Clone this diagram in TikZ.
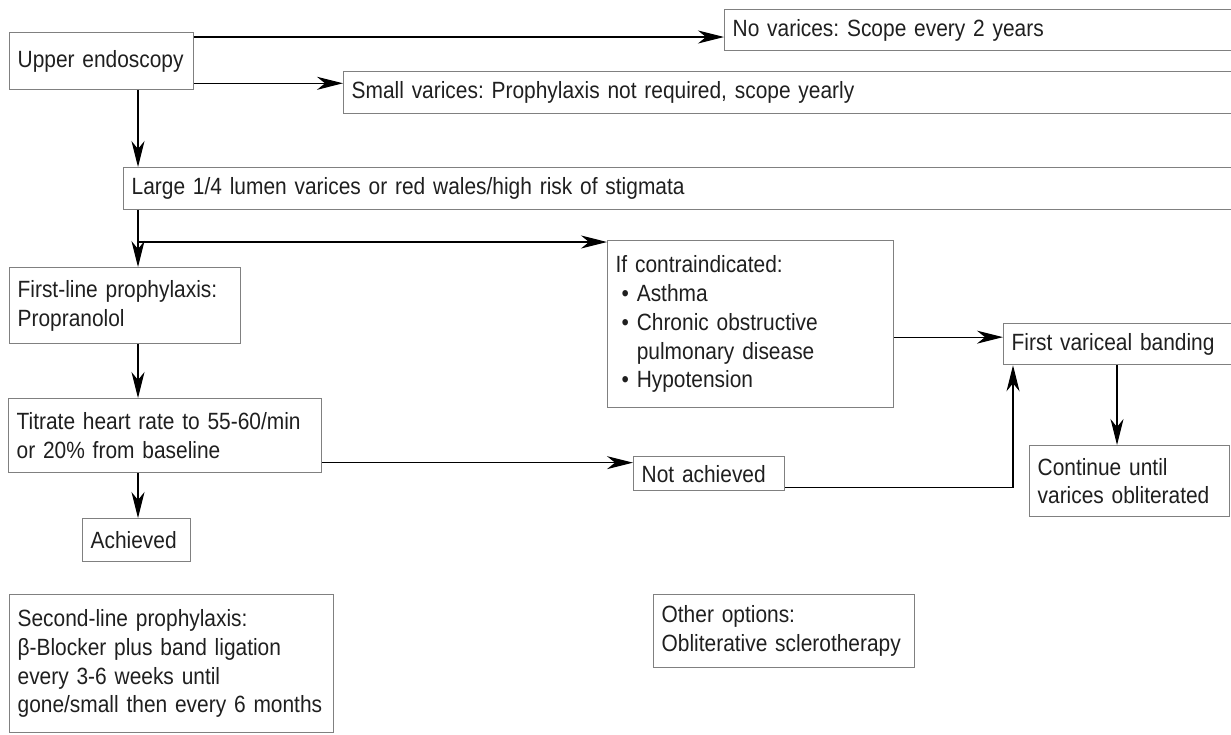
\documentclass[tikz,border=0pt]{standalone}
\usepackage{fontspec}
\setmainfont{Liberation Sans}[FakeStretch=0.89]
\usetikzlibrary{arrows.meta}
\definecolor{boxgray}{gray}{0.5}
\definecolor{inkgray}{gray}{0.12}
\tikzset{
  box/.style={draw=boxgray, line width=1.3pt, anchor=north west, align=left,
    inner xsep=8pt, inner ysep=0pt, text=inkgray,
    font=\fontsize{23.5}{28.8}\selectfont},
  wire/.style={line width=1.1pt},
  arr/.style={wire, -{Stealth[length=26pt,width=13pt,inset=8pt]}},
}
\frenchspacing
\begin{document}
\begin{tikzpicture}[x=1pt,y=-1pt]
        \useasboundingbox (0,0) rectangle (1231,734);
        %% Boxes
        \node[box, text width=168pt, minimum height=57pt] (endo) at (9,32) {Upper endoscopy};
        \node[box, text width=500pt, minimum height=41pt] (novar) at (724,9) {No varices: Scope every 2 years};
        \node[box, text width=881pt, minimum height=42pt] (small) at (343,71) {Small varices: Prophylaxis not required, scope yearly};
        \node[box, text width=1101pt, minimum height=42pt] (large) at (123,167) {Large 1/4 lumen varices or red wales/high risk of stigmata};
        \node[box, text width=215pt, minimum height=76pt] (first) at (9,267) {First-line prophylaxis:\\Propranolol};
        \node[box, text width=270pt, minimum height=167pt] (contra) at (607,240) {If contraindicated:\\
            \hspace*{6pt}• Asthma\\
            \hspace*{6pt}• Chronic obstructive\\
            \hspace*{6pt}\phantom{• }pulmonary disease\\
            \hspace*{6pt}• Hypotension};
        \node[box, text width=220pt, minimum height=41pt] (band) at (1003,323) {First variceal banding};
        \node[box, text width=184pt, minimum height=71pt] (cont) at (1029,445) {Continue until\\varices obliterated};
        \node[box, text width=297pt, minimum height=74pt] (titr) at (8,398) {Titrate heart rate to 55-60/min\\or 20\% from baseline};
        \node[box, text width=135pt, minimum height=34pt] (notach) at (633,456) {Not achieved};
        \node[box, text width=92pt, minimum height=43pt] (achv) at (82,518) {Achieved};
        \node[box, text width=308pt, minimum height=138pt] (second) at (9,594) {Second-line prophylaxis:\\β-Blocker plus band ligation\\every 3-6 weeks until\\gone/small then every 6 months};
        \node[box, text width=245pt, minimum height=73pt] (other) at (653,594) {Other options:\\Obliterative sclerotherapy};
        %% Trunk on the left
        \coordinate (trunk) at (138,0);
        \coordinate (split) at (138,242);
        \foreach \a/\b in {endo/large, large/first, first/titr, titr/achv} {
            \draw[arr] (\a.south -| trunk) -- (\b.north -| trunk);
        }
        %% Branches
        \draw[arr] ([yshift=-5pt]endo.north east) -- ([yshift=-5pt]endo.north east -| novar.west);
        \draw[arr] ([yshift=7pt]endo.south east) -- ([yshift=7pt]endo.south east -| small.west);
        \draw[arr] (split) -- (split -| contra.west);
        \draw[arr] ([yshift=-27pt]titr.east) -- ([yshift=-27pt]titr.east -| notach.west);
        \draw[arr] ([yshift=-13pt]contra.west -| contra.east) -- ([yshift=-13pt]contra.west -| band.west);
        \coordinate (rise) at (1013,0);
        \draw[arr] ([yshift=4pt]notach.south east) -- ([yshift=4pt]notach.south east -| rise) -- (band.south -| rise);
        \draw[arr] (band.south -| 1117,0) -- (cont.north -| 1117,0);
    \end{tikzpicture}
\end{document}
